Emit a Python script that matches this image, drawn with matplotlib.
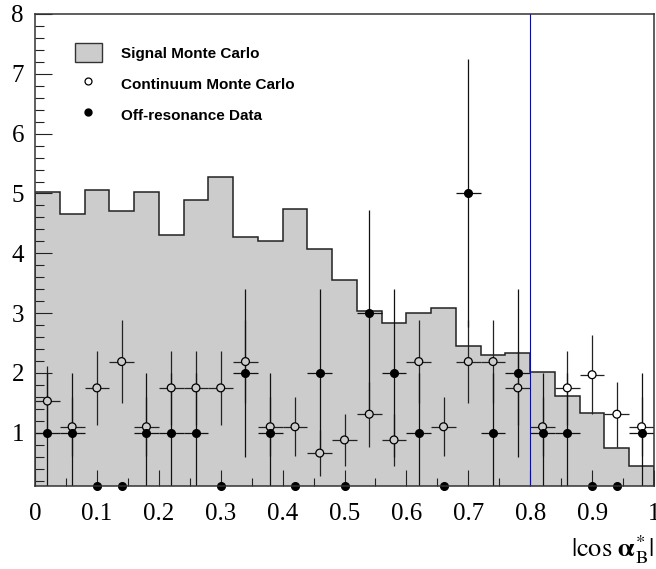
import numpy as np
import matplotlib
matplotlib.use("Agg")
import matplotlib.pyplot as plt
from matplotlib.patches import Patch
from matplotlib.lines import Line2D
from matplotlib.ticker import MultipleLocator, FormatStrFormatter

plt.rcParams['mathtext.fontset'] = 'stix'

# 25 bins in |cos alpha*_B|, width 0.04
bin_edges = np.linspace(0.0, 1.0, 26)
bin_centers = 0.5 * (bin_edges[:-1] + bin_edges[1:])
bin_halfwidth = 0.02

# signal MC (normalised histogram)
signal_mc = [5.03, 4.65, 5.06, 4.70, 5.02, 4.31, 4.89, 5.28, 4.27, 4.21,
             4.74, 4.07, 3.56, 3.04, 2.84, 3.00, 3.08, 2.45, 2.30, 2.33,
             2.01, 1.62, 1.33, 0.74, 0.45]

# continuum MC (scaled counts) and errors
cont_mc = [1.53, 1.10, 1.75, 2.19, 1.10, 1.75, 1.75, 1.75, 2.19, 1.10,
           1.10, 0.66, 0.88, 1.31, 0.88, 2.19, 1.10, 2.19, 2.19, 1.75,
           1.10, 1.75, 1.97, 1.31, 1.10]
cont_err = [0.58, 0.49, 0.62, 0.69, 0.49, 0.62, 0.62, 0.62, 0.69, 0.49,
            0.49, 0.38, 0.44, 0.54, 0.44, 0.69, 0.49, 0.69, 0.69, 0.62,
            0.49, 0.62, 0.66, 0.54, 0.49]

# off-resonance data counts and errors
off_data = [1, 1, 0, 0, 1, 1, 1, 0, 2, 1,
            0, 2, 0, 3, 2, 1, 0, 5, 1, 2,
            1, 1, 0, 0, 1]
off_err = [1, 1, 0, 0, 1, 1, 1, 0, 1.41, 1,
           0, 1.41, 0, 1.73, 1.41, 1, 0, 2.24, 1, 1.41,
           1, 1, 0, 0, 1]

cut_value = 0.8
y_lo, y_hi = 0.11, 8.0

fig = plt.figure(figsize=(6.56, 5.69), dpi=100)
ax = fig.add_axes([35 / 656, 1 - 486 / 569, 619 / 656, 472 / 569])

signal_arr = np.array(signal_mc)
cont_arr = np.array(cont_mc)
off_arr = np.array(off_data, dtype=float)

# filled histogram
ax.stairs(signal_arr, bin_edges, fill=True, color='#cccccc', zorder=1)
ax.stairs(signal_arr, bin_edges, color='#222222', lw=1.1, zorder=2)

# error bars
ax.errorbar(bin_centers, cont_arr, yerr=cont_err, xerr=bin_halfwidth,
            fmt='none', ecolor='#222222', elinewidth=0.9, capsize=0, zorder=3)
has_err = np.array(off_err) > 0
ax.errorbar(bin_centers[has_err], off_arr[has_err],
            yerr=np.array(off_err)[has_err], xerr=bin_halfwidth,
            fmt='none', ecolor='#111111', elinewidth=0.9, capsize=0, zorder=3)

# open markers take the colour of what lies behind them
face = np.where(cont_arr < signal_arr, '#cccccc', 'white')
ax.scatter(bin_centers, cont_arr, s=32, facecolors=face, edgecolors='black',
           linewidths=0.9, zorder=4)
ax.plot(bin_centers, np.maximum(off_arr, y_lo), 'o', color='black', ms=5.5,
        zorder=5, clip_on=False)

ax.axvline(cut_value, color='#0000ff', lw=0.8, zorder=6)

ax.set_xlim(0, 1)
ax.set_ylim(y_lo, y_hi)

ax.xaxis.set_major_locator(MultipleLocator(0.1))
ax.xaxis.set_minor_locator(MultipleLocator(0.05))
ax.xaxis.set_major_formatter(FormatStrFormatter('%g'))
ax.yaxis.set_major_locator(MultipleLocator(1))
ax.yaxis.set_minor_locator(MultipleLocator(0.2))
ax.yaxis.set_major_formatter(FormatStrFormatter('%g'))

ax.tick_params(which='both', direction='in', top=False, right=False,
               width=0.8, color='#222222')
ax.tick_params(axis='x', which='major', length=11.5, pad=12)
ax.tick_params(axis='x', which='minor', length=5.5)
ax.tick_params(axis='y', which='major', length=12.2, pad=8)
ax.tick_params(axis='y', which='minor', length=6.5)
for lab in ax.get_xticklabels() + ax.get_yticklabels():
    lab.set_fontfamily('Liberation Serif')
    lab.set_fontsize(18)

for sp in ax.spines.values():
    sp.set_color('#333333')
    sp.set_linewidth(1.1)
    sp.set_zorder(7)

ax.set_xlabel(r'$|\cos\,\mathbf{\alpha}^{*}_{\mathrm{B}}|$', fontsize=19,
              loc='right', labelpad=6)

handles = [
    Patch(facecolor='#cccccc', edgecolor='#333333', lw=1.0),
    Line2D([], [], ls='none', marker='o', ms=5, mfc='white', mec='black', mew=0.9),
    Line2D([], [], ls='none', marker='o', ms=5, color='black'),
]
labels = ['Signal Monte Carlo', 'Continuum Monte Carlo', 'Off-resonance Data']
ax.legend(handles, labels, loc='upper left', bbox_to_anchor=(0.0646, 0.9386),
          frameon=False, borderpad=0, borderaxespad=0,
          handlelength=1.75, handleheight=1.55, handletextpad=1.25,
          labelspacing=0.78,
          prop={'family': 'Liberation Sans', 'weight': 'bold', 'size': 11})

fig.savefig('out.png', dpi=100)
